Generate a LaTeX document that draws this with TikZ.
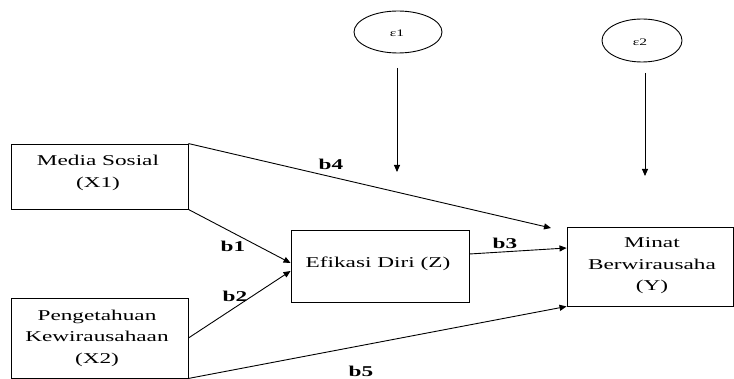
\documentclass[tikz,border=0pt]{standalone}
\usepackage{fontspec}
\setmainfont{Liberation Serif}[FakeStretch=1.55]
\usetikzlibrary{arrows.meta,shapes.geometric}
\begin{document}
\begin{tikzpicture}[x=1pt,y=-1pt,
  box/.style={draw, line width=0.9pt, inner sep=0pt},
  errnode/.style={draw, ellipse, line width=0.9pt, inner sep=0pt},
  lab/.style={font=\fontsize{15}{21.5}\selectfont, align=center, inner sep=0pt},
  coef/.style={font=\fontsize{15}{18}\selectfont\bfseries, inner sep=0pt},
  errlab/.style={font=\fontsize{10}{12}\selectfont, inner sep=0pt},
  arr/.style={line width=0.9pt, -{Triangle[length=7pt,width=6pt]}}]
\useasboundingbox (0,0) rectangle (734,379);
% boxes
\node[box, minimum width=177pt, minimum height=65pt] (x1) at (99.5,176.5) {};
\node[box, minimum width=177pt, minimum height=80pt] (x2) at (99.5,338) {};
\node[box, minimum width=178pt, minimum height=72pt] (z) at (380,266) {};
\node[box, minimum width=166pt, minimum height=79pt] (y) at (650,266.5) {};
% texts
\node[lab] (tx1) at (98,173) {Media Sosial\\(X1)};
\node[lab] (tx2) at (97,338) {Pengetahuan\\Kewirausahaan\\(X2)};
\node[lab] (tz) at (378,263.4) {Efikasi Diri (Z)};
\node[lab] (ty) at (652,266) {Minat\\Berwirausaha\\(Y)};
% error ellipses
\node[errnode, minimum width=88pt, minimum height=42pt] (e1) at (398,32) {};
\node[errlab] (te1) at (397,33) {ε1};
\node[errnode, minimum width=80pt, minimum height=43pt] (e2) at (642,40.5) {};
\node[errlab] (te2) at (640,42) {ε2};
% free ends
\coordinate (b4end) at (551,228);
\coordinate (e1start) at (397,68);
\coordinate (e1end) at (397,172);
\coordinate (e2start) at (645,73);
\coordinate (e2end) at (645,176);
% connectors
\draw[arr] (x1.north east) -- (b4end);
\draw[arr] (x1.south east) -- ([yshift=3pt]z.west);
\draw[arr] (x2.east) -- ([yshift=-5pt]z.west);
\draw[arr] ([yshift=12pt]z.east) -- ([yshift=18.5pt]y.west);
\draw[arr] (x2.south east) -- (y.south west);
\draw[arr] (e1start) -- (e1end);
\draw[arr] (e2start) -- (e2end);
% coefficient labels
\node[coef] (lb4) at (331,164.5) {b4};
\node[coef] (lb1) at (233,246) {b1};
\node[coef] (lb2) at (235,296) {b2};
\node[coef] (lb3) at (505,243) {b3};
\node[coef] (lb5) at (361,371) {b5};
\end{tikzpicture}
\end{document}
